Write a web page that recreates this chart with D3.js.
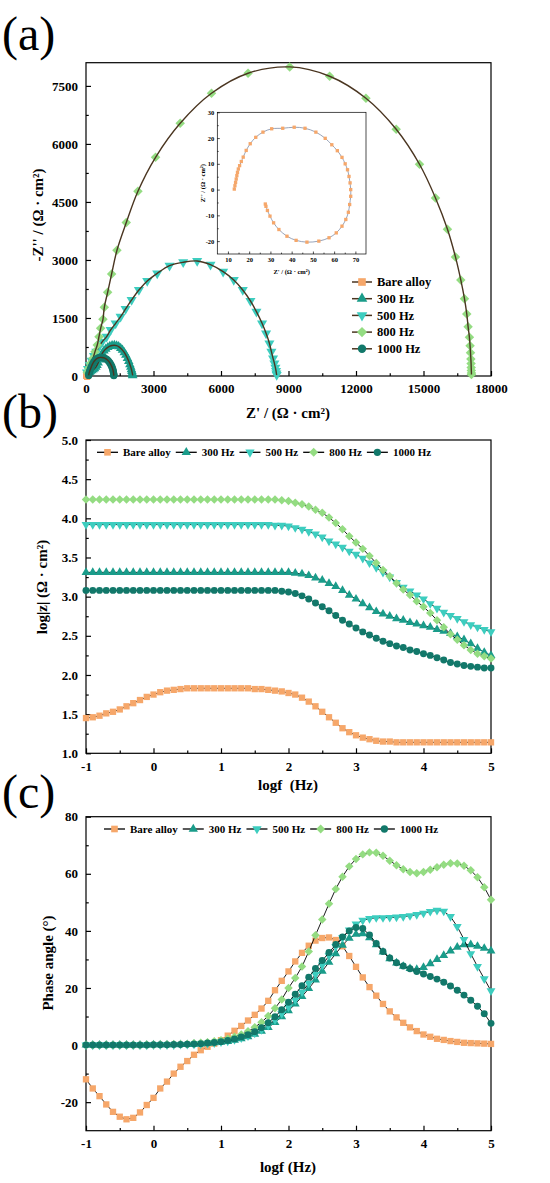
<!DOCTYPE html>
<html>
<head>
<meta charset="utf-8">
<script src="https://cdn.jsdelivr.net/npm/d3@7"></script>
<style>
  body { margin: 0; background: #fff; }
  text { font-family: "Liberation Serif", "Times New Roman", serif; font-weight: bold; fill: #000; }
  text.letter { font-weight: normal; }
</style>
</head>
<body>
<svg id="chart" width="550" height="1183"></svg>
<script>
// Series
var seriesNames = ["Bare alloy", "300 Hz", "500 Hz", "800 Hz", "1000 Hz"];
var seriesColors = ["#f6a76a", "#1a9c8a", "#3dcdbf", "#94dc82", "#12786a"];

// Frequency grid, log10(f / Hz)
var logf = [-1.0, -0.9, -0.8, -0.7, -0.6, -0.5, -0.4, -0.3, -0.2, -0.1,
  0.0, 0.1, 0.2, 0.3, 0.4, 0.5, 0.6, 0.7, 0.8, 0.9,
  1.0, 1.1, 1.2, 1.3, 1.4, 1.5, 1.6, 1.7, 1.8, 1.9,
  2.0, 2.1, 2.2, 2.3, 2.4, 2.5, 2.6, 2.7, 2.8, 2.9,
  3.0, 3.1, 3.2, 3.3, 3.4, 3.5, 3.6, 3.7, 3.8, 3.9,
  4.0, 4.1, 4.2, 4.3, 4.4, 4.5, 4.6, 4.7, 4.8, 4.9,
  5.0];

// Bode modulus, log|Z| (ohm cm2)
var modBare = [1.45, 1.46, 1.48, 1.51, 1.53, 1.56, 1.60, 1.64, 1.68, 1.72,
  1.75, 1.78, 1.80, 1.81, 1.82, 1.83, 1.83, 1.83, 1.83, 1.83,
  1.83, 1.83, 1.83, 1.83, 1.83, 1.82, 1.82, 1.81, 1.80, 1.79,
  1.77, 1.75, 1.71, 1.66, 1.60, 1.53, 1.46, 1.39, 1.32, 1.27,
  1.23, 1.20, 1.18, 1.16, 1.15, 1.15, 1.14, 1.14, 1.14, 1.14,
  1.14, 1.14, 1.14, 1.14, 1.14, 1.14, 1.14, 1.14, 1.14, 1.14,
  1.14];
var mod300 = [3.31, 3.31, 3.31, 3.31, 3.31, 3.31, 3.31, 3.31, 3.31, 3.31,
  3.31, 3.31, 3.31, 3.31, 3.31, 3.31, 3.31, 3.31, 3.31, 3.31,
  3.31, 3.31, 3.31, 3.31, 3.31, 3.31, 3.31, 3.31, 3.31, 3.31,
  3.31, 3.30, 3.29, 3.27, 3.24, 3.21, 3.17, 3.13, 3.08, 3.02,
  2.97, 2.91, 2.86, 2.81, 2.78, 2.75, 2.72, 2.70, 2.67, 2.65,
  2.63, 2.61, 2.58, 2.56, 2.53, 2.49, 2.45, 2.40, 2.34, 2.29,
  2.25];
var mod500 = [3.92, 3.92, 3.92, 3.92, 3.92, 3.92, 3.92, 3.92, 3.92, 3.92,
  3.92, 3.92, 3.92, 3.92, 3.92, 3.92, 3.92, 3.92, 3.92, 3.92,
  3.92, 3.92, 3.92, 3.92, 3.92, 3.92, 3.92, 3.92, 3.91, 3.91,
  3.90, 3.88, 3.86, 3.83, 3.80, 3.76, 3.71, 3.67, 3.63, 3.58,
  3.54, 3.49, 3.43, 3.37, 3.31, 3.25, 3.18, 3.12, 3.07, 3.02,
  2.97, 2.91, 2.85, 2.80, 2.76, 2.72, 2.68, 2.64, 2.61, 2.58,
  2.55];
var mod800 = [4.24, 4.24, 4.24, 4.24, 4.24, 4.24, 4.24, 4.24, 4.24, 4.24,
  4.24, 4.24, 4.24, 4.24, 4.24, 4.24, 4.24, 4.24, 4.24, 4.24,
  4.24, 4.24, 4.24, 4.24, 4.24, 4.24, 4.24, 4.24, 4.24, 4.23,
  4.22, 4.20, 4.18, 4.15, 4.11, 4.07, 4.01, 3.94, 3.86, 3.77,
  3.69, 3.61, 3.52, 3.43, 3.34, 3.26, 3.17, 3.09, 3.02, 2.94,
  2.87, 2.79, 2.70, 2.61, 2.52, 2.45, 2.38, 2.32, 2.27, 2.24,
  2.21];
var mod1000 = [3.08, 3.08, 3.08, 3.08, 3.08, 3.08, 3.08, 3.08, 3.08, 3.08,
  3.08, 3.08, 3.08, 3.08, 3.08, 3.08, 3.08, 3.08, 3.08, 3.08,
  3.08, 3.08, 3.08, 3.08, 3.08, 3.08, 3.08, 3.08, 3.08, 3.07,
  3.06, 3.04, 3.01, 2.97, 2.92, 2.87, 2.82, 2.76, 2.70, 2.65,
  2.60, 2.55, 2.51, 2.47, 2.43, 2.40, 2.37, 2.35, 2.32, 2.30,
  2.27, 2.25, 2.22, 2.19, 2.16, 2.14, 2.12, 2.11, 2.10, 2.09,
  2.09];

// Bode phase angle (deg)
var phaseBare = [-12.0, -15.2, -17.9, -20.8, -23.4, -25.1, -26.0, -25.5, -23.6, -21.0,
  -18.5, -15.2, -12.8, -10.0, -7.6, -5.6, -3.4, -1.8, -0.6, 0.5,
  1.7, 3.3, 5.0, 6.7, 8.6, 10.6, 12.8, 15.5, 19.2, 22.5,
  25.8, 29.3, 32.3, 34.8, 36.6, 37.5, 37.7, 36.8, 34.6, 31.2,
  27.4, 23.7, 20.3, 17.3, 14.4, 11.8, 9.7, 7.8, 6.2, 4.9,
  3.7, 2.9, 2.2, 1.8, 1.4, 1.1, 0.8, 0.7, 0.6, 0.5,
  0.4];
var phase300 = [0.0, 0.0, 0.0, 0.0, 0.0, 0.0, 0.0, 0.0, 0.0, 0.0,
  0.1, 0.1, 0.1, 0.1, 0.2, 0.2, 0.3, 0.4, 0.6, 0.8,
  1.0, 1.3, 1.7, 2.2, 2.9, 3.8, 4.9, 6.2, 7.9, 9.9,
  12.0, 14.4, 17.0, 19.8, 22.8, 25.9, 29.0, 32.0, 35.0, 37.4,
  38.8, 39.0, 37.6, 35.2, 32.6, 30.3, 28.8, 27.6, 26.8, 26.5,
  27.2, 28.5, 30.0, 31.4, 33.0, 34.3, 35.2, 35.2, 34.6, 33.9,
  33.0];
var phase500 = [0.0, 0.0, 0.0, 0.0, 0.0, 0.0, 0.0, 0.0, 0.0, 0.0,
  0.1, 0.1, 0.1, 0.1, 0.2, 0.2, 0.3, 0.4, 0.6, 0.8,
  1.1, 1.4, 1.9, 2.5, 3.2, 4.2, 5.4, 6.9, 8.8, 11.0,
  13.3, 15.8, 18.6, 21.6, 24.8, 28.0, 31.3, 34.5, 37.6, 40.3,
  42.4, 43.7, 44.3, 44.6, 44.6, 44.7, 44.8, 45.0, 45.3, 45.7,
  46.2, 46.8, 47.2, 46.9, 45.0, 41.5, 37.0, 32.0, 27.5, 23.2,
  19.0];
var phase800 = [0.0, 0.0, 0.0, 0.0, 0.0, 0.0, 0.0, 0.0, 0.0, 0.1,
  0.1, 0.2, 0.2, 0.3, 0.3, 0.4, 0.6, 0.8, 1.0, 1.3,
  1.7, 2.2, 2.9, 3.7, 4.8, 6.2, 8.0, 10.2, 12.9, 16.0,
  20.0, 23.5, 27.5, 32.8, 38.5, 44.0, 49.5, 54.7, 59.0, 62.6,
  65.2, 66.8, 67.5, 67.4, 66.3, 64.6, 63.0, 61.6, 60.6, 60.2,
  60.6, 61.4, 62.3, 63.2, 63.7, 63.6, 62.8, 61.2, 58.8, 55.3,
  50.9];
var phase1000 = [0.0, 0.0, 0.0, 0.0, 0.0, 0.0, 0.0, 0.0, 0.0, 0.0,
  0.1, 0.1, 0.1, 0.2, 0.2, 0.3, 0.4, 0.5, 0.7, 0.9,
  1.2, 1.6, 2.1, 2.8, 3.6, 4.7, 6.1, 7.8, 9.9, 12.4,
  15.0, 17.8, 20.8, 23.8, 26.8, 29.6, 32.4, 35.2, 37.9, 40.0,
  41.2, 40.8, 38.6, 35.6, 32.8, 30.5, 28.8, 27.7, 26.7, 25.8,
  24.9, 24.0, 23.1, 22.0, 20.7, 19.2, 17.5, 15.7, 13.6, 11.0,
  7.6];

// Nyquist, [Z', -Z''] (ohm cm2)
var nyqBare = [[13.0, 0.2], [13.3, 1.5], [13.6, 2.8], [13.9, 4.1], [14.2, 5.4], [14.5, 6.7],
  [14.9, 8.0], [15.5, 9.3], [16.3, 10.9], [17.2, 12.6], [18.6, 15.2], [20.5, 17.8],
  [23.1, 20.3], [26.5, 22.3], [30.6, 23.6], [35.8, 23.8], [41.2, 24.2], [46.3, 23.8],
  [51.4, 22.3], [55.8, 19.9], [58.9, 17.4], [61.5, 15.1], [63.7, 12.5], [65.2, 10.0],
  [66.3, 7.7], [67.0, 5.1], [67.5, 2.6], [67.8, 0.0], [67.8, -2.6], [67.3, -5.8],
  [66.7, -8.8], [65.5, -11.6], [63.7, -14.2], [61.0, -16.8], [57.6, -18.7], [52.8, -20.0],
  [47.2, -20.4], [42.1, -19.7], [37.8, -18.1], [34.0, -15.5], [31.5, -12.9], [29.8, -10.3],
  [28.6, -8.1], [27.9, -6.5], [27.6, -5.6]];
var nyq300 = [[150, 95], [200, 115], [260, 140], [320, 165], [380, 195], [440, 230],
  [490, 280], [540, 340], [600, 420], [660, 510], [730, 590], [800, 650], [880, 700],
  [970, 740], [1060, 770], [1160, 790], [1260, 795], [1360, 785], [1450, 760], [1540, 720],
  [1620, 670], [1700, 610], [1770, 540], [1840, 460], [1900, 380], [1950, 300], [1990, 230],
  [2020, 170], [2040, 120], [2055, 80], [2065, 50], [2070, 30], [2075, 15]];
var nyq500 = [[44, 95], [89, 181], [163, 284], [251, 397], [355, 517], [459, 629],
  [577, 759], [725, 888], [917, 1017], [1095, 1190], [1317, 1362], [1538, 1534],
  [1760, 1733], [2027, 1966], [2352, 2224], [2722, 2457], [3166, 2655], [3713, 2853],
  [4320, 2940], [4941, 2975], [5533, 2880], [6095, 2698], [6568, 2483], [6967, 2224],
  [7308, 1940], [7574, 1664], [7825, 1362], [8003, 1103], [8151, 845], [8240, 629],
  [8314, 457], [8373, 328], [8417, 216], [8447, 129], [8462, 69], [8476, 26]];
var nyq800 = [[59, 95], [133, 198], [207, 330], [311, 457], [400, 630], [500, 800],
  [577, 1017], [651, 1233], [754, 1466], [814, 1776], [962, 2164], [1139, 2638],
  [1376, 3250], [1790, 3966], [2308, 4776], [3092, 5655], [4186, 6534], [5577, 7310],
  [7204, 7828], [9053, 7991], [10828, 7750], [12441, 7181], [13787, 6379], [14822, 5474],
  [15533, 4603], [16065, 3793], [16420, 3078], [16657, 2483], [16820, 2000], [16923, 1603],
  [16982, 1276], [17041, 1000], [17070, 780], [17090, 600], [17105, 440], [17115, 320],
  [17120, 220], [17125, 140], [17130, 80], [17130, 40]];
var nyq1000 = [[120, 15], [125, 40], [135, 70], [150, 100], [170, 135], [195, 175],
  [225, 220], [260, 270], [300, 320], [350, 370], [410, 415], [480, 450], [560, 472],
  [640, 482], [720, 480], [800, 468], [870, 448], [940, 420], [1000, 385], [1055, 345],
  [1100, 300], [1140, 255], [1170, 210], [1195, 165], [1210, 125], [1220, 90], [1228, 60],
  [1232, 38], [1235, 20], [1237, 10]];

// Tick values
var nyqTicksX = [0, 3000, 6000, 9000, 12000, 15000, 18000];
var nyqTicksY = [0, 1500, 3000, 4500, 6000, 7500];
var insetTicksX = [10, 20, 30, 40, 50, 60, 70];
var insetTicksY = [-20, -10, 0, 10, 20, 30];
var freqTicks = [-1, 0, 1, 2, 3, 4, 5];
var modTicks = [1.0, 1.5, 2.0, 2.5, 3.0, 3.5, 4.0, 4.5, 5.0];
var phaseTicks = [-20, 0, 20, 40, 60, 80];

var svg = d3.select("#chart");
var symbolTypes = [d3.symbolSquare, d3.symbolTriangle, d3.symbolTriangle, d3.symbolSquare, d3.symbolCircle];
var symbolRotate = [0, 0, 180, 45, 0];
var symbolScale = [1.0, 0.85, 0.85, 0.9, 0.95];

function drawMarker(g, x, y, i, size) {
  g.append("path")
    .attr("d", d3.symbol().type(symbolTypes[i]).size(size * symbolScale[i])())
    .attr("transform", "translate(" + x + "," + y + ") rotate(" + symbolRotate[i] + ")")
    .attr("fill", seriesColors[i]);
}

function plain(d) { return String(d); }
function oneDec(d) { return d.toFixed(1); }

// Box with inward major and minor ticks on the bottom and left
function frame(g, x, y, w, h, o) {
  var minor = function(t) { return t.slice(1).map(function(v, k) { return (v + t[k]) / 2; }); };
  g.append("g").attr("transform", "translate(0," + h + ")")
    .call(d3.axisBottom(x).tickValues(minor(o.xt)).tickSize(-o.tick * 0.55).tickFormat(""));
  g.append("g").attr("transform", "translate(0," + h + ")")
    .call(d3.axisBottom(x).tickValues(o.xt).tickSize(-o.tick).tickPadding(o.pad).tickFormat(o.fx));
  g.append("g")
    .call(d3.axisLeft(y).tickValues(minor(o.yt)).tickSize(-o.tick * 0.55).tickFormat(""));
  g.append("g")
    .call(d3.axisLeft(y).tickValues(o.yt).tickSize(-o.tick).tickPadding(o.pad).tickFormat(o.fy));
  g.selectAll(".domain").remove();
  g.selectAll(".tick line").attr("stroke", "#000").attr("stroke-width", o.sw);
  g.selectAll(".tick text")
    .attr("font-family", "'Liberation Serif', 'Times New Roman', serif")
    .attr("font-weight", "bold")
    .attr("font-size", o.fs)
    .attr("fill", "#000");
  g.append("rect")
    .attr("width", w).attr("height", h)
    .attr("fill", "none").attr("stroke", "#000").attr("stroke-width", o.sw);
}

function hLegend(g, x0, y0, fs) {
  var x = x0;
  seriesNames.forEach(function(name, i) {
    g.append("line")
      .attr("x1", x).attr("x2", x + 21).attr("y1", y0).attr("y2", y0)
      .attr("stroke", "#000").attr("stroke-width", 1.3);
    drawMarker(g, x + 10.5, y0, i, 44);
    var t = g.append("text").attr("x", x + 26).attr("y", y0).attr("dy", "0.35em")
      .attr("font-size", fs).text(name);
    x += 26 + t.node().getComputedTextLength() + 5;
  });
}

function panelLetter(txt, y) {
  svg.append("text").attr("class", "letter").attr("x", 2).attr("y", y)
    .attr("font-size", 48).text(txt);
}

// ---------- (a) Nyquist ----------
var aW = 405, aH = 313.3;
var ga = svg.append("g").attr("transform", "translate(86,62.7)");
var xa = d3.scaleLinear().domain([0, 18000]).range([0, aW]);
var ya = d3.scaleLinear().domain([0, 8100]).range([aH, 0]);
frame(ga, xa, ya, aW, aH, { xt: nyqTicksX, yt: nyqTicksY, fx: plain, fy: plain, tick: 5, pad: 8, fs: 13, sw: 1.2 });

var nyqAll = [nyqBare, nyq300, nyq500, nyq800, nyq1000];
var nyqLine = d3.line().x(d => xa(d[0])).y(d => ya(d[1])).curve(d3.curveCatmullRom);
nyqAll.forEach(function(s, i) {
  var sizes = [30, 46, 52, 50, 44];
  s.forEach(function(d) { drawMarker(ga, xa(d[0]), ya(d[1]), i, sizes[i]); });
  ga.append("path").attr("d", nyqLine(s))
    .attr("fill", "none").attr("stroke", "#4a3520").attr("stroke-width", 1.4);
});

// Vertical legend
seriesNames.forEach(function(name, i) {
  var ly = 282 + i * 16.7 - 62.7;
  ga.append("line").attr("x1", 352 - 86).attr("x2", 372 - 86).attr("y1", ly).attr("y2", ly)
    .attr("stroke", "#4a3520").attr("stroke-width", 1.5);
  drawMarker(ga, 362 - 86, ly, i, 58);
  ga.append("text").attr("x", 377 - 86).attr("y", ly).attr("dy", "0.35em")
    .attr("font-size", 12.5).text(name);
});

svg.append("text").attr("x", 288).attr("y", 418).attr("text-anchor", "middle")
  .attr("font-size", 15).text("Z' / (Ω · cm²)");
svg.append("text").attr("transform", "translate(43,215) rotate(-90)").attr("text-anchor", "middle")
  .attr("font-size", 15).text("-Z'' / (Ω · cm²)");

// Inset: bare alloy only
var iW = 148.7, iH = 141.7;
var gi = svg.append("g").attr("transform", "translate(217.3,112.3)");
gi.append("rect").attr("width", iW).attr("height", iH).attr("fill", "#fff");
var xi = d3.scaleLinear().domain([5, 75]).range([0, iW]);
var yi = d3.scaleLinear().domain([-25, 30]).range([iH, 0]);
frame(gi, xi, yi, iW, iH, { xt: insetTicksX, yt: insetTicksY, fx: plain, fy: plain, tick: 2.5, pad: 3, fs: 6.5, sw: 0.7 });
var insetLine = d3.line().x(d => xi(d[0])).y(d => yi(d[1])).curve(d3.curveCatmullRom);
gi.append("path").attr("d", insetLine(nyqBare))
  .attr("fill", "none").attr("stroke", "#7d8ba6").attr("stroke-width", 0.8);
nyqBare.forEach(function(d) { drawMarker(gi, xi(d[0]), yi(d[1]), 0, 11); });
gi.append("text").attr("x", iW / 2).attr("y", iH + 20).attr("text-anchor", "middle")
  .attr("font-size", 6.5).text("Z' / (Ω · cm²)");
gi.append("text").attr("transform", "translate(-12," + (iH / 2) + ") rotate(-90)")
  .attr("text-anchor", "middle").attr("font-size", 6.5).text("Z'' / (Ω · cm²)");

// ---------- Bode panels ----------
function bodePanel(top, h, yDomain, yt, fy, series, legendX, legendY) {
  var g = svg.append("g").attr("transform", "translate(86," + top + ")");
  var x = d3.scaleLinear().domain([-1, 5]).range([0, 405]);
  var y = d3.scaleLinear().domain(yDomain).range([h, 0]);
  frame(g, x, y, 405, h, { xt: freqTicks, yt: yt, fx: plain, fy: fy, tick: 5, pad: 8, fs: 13, sw: 1.2 });
  var line = d3.line().x(function(d, k) { return x(logf[k]); }).y(function(d) { return y(d); });
  series.forEach(function(s, i) {
    g.append("path").attr("d", line(s))
      .attr("fill", "none").attr("stroke", "#000").attr("stroke-width", 0.9);
    s.forEach(function(v, k) { drawMarker(g, x(logf[k]), y(v), i, 40); });
  });
  hLegend(svg, legendX, legendY, 11);
}

// (b) modulus
bodePanel(440, 313.3, [1.0, 5.0], modTicks, oneDec,
  [modBare, mod300, mod500, mod800, mod1000], 97, 452.3);
svg.append("text").attr("x", 288).attr("y", 790).attr("text-anchor", "middle")
  .attr("font-size", 15).text("logf\u00a0\u00a0(Hz)");
svg.append("text").attr("transform", "translate(47,587) rotate(-90)").attr("text-anchor", "middle")
  .attr("font-size", 15).text("log|z| (Ω · cm²)");

// (c) phase
bodePanel(816.7, 314, [-30, 80], phaseTicks, plain,
  [phaseBare, phase300, phase500, phase800, phase1000], 104, 829);
svg.append("text").attr("x", 288).attr("y", 1172).attr("text-anchor", "middle")
  .attr("font-size", 15).text("logf (Hz)");
svg.append("text").attr("transform", "translate(53,963) rotate(-90)").attr("text-anchor", "middle")
  .attr("font-size", 15).text("Phase angle (°)");

panelLetter("(a)", 50);
panelLetter("(b)", 428);
panelLetter("(c)", 808);
</script>
</body>
</html>
